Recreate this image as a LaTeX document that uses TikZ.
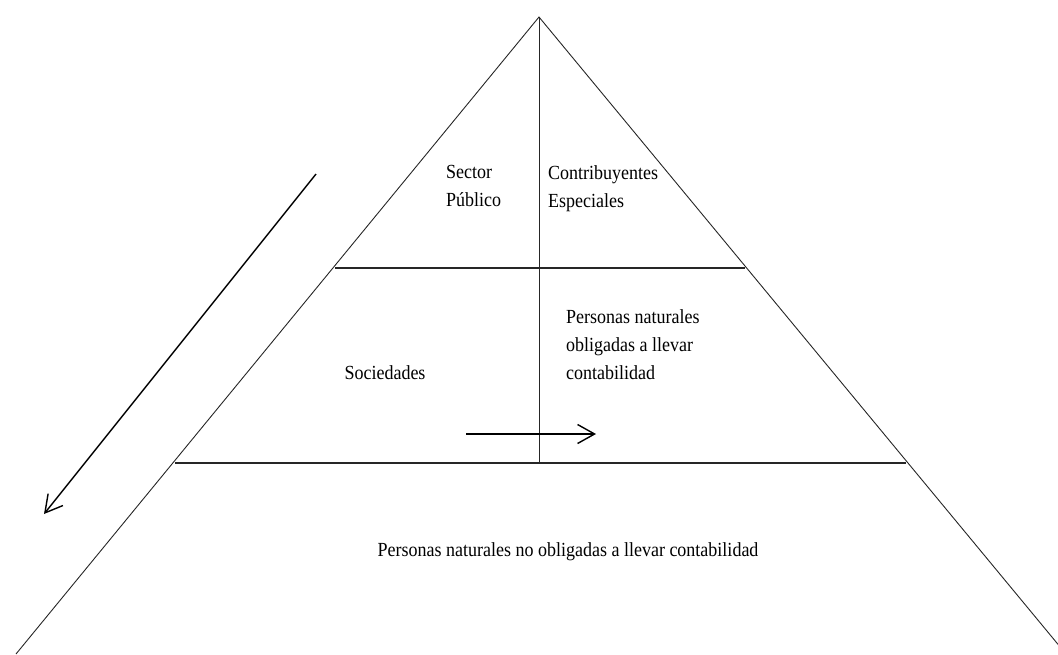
\documentclass[tikz,border=0pt]{standalone}
\usepackage{fontspec}
\setmainfont[FakeStretch=0.9]{Liberation Serif}
\usetikzlibrary{arrows.meta}
\begin{document}
\begin{tikzpicture}[x=1pt,y=-1pt,
  side/.style={draw=black!85, line width=0.9pt},
  level/.style={draw=black!85, line width=1.8pt},
  arrow/.style={line width=1.4pt, -{Straight Barb[length=17pt,width=19pt,line width=1.4pt]}},
  label/.style={font=\fontsize{20}{28}\selectfont, align=left, inner sep=0pt}]
\useasboundingbox (0,0) rectangle (1058,654);
\clip (0,0) rectangle (1058,654);
% pyramid
\coordinate (apex) at (539,17);
\coordinate (baseL) at (16,654);
\coordinate (baseR) at (1066,654);
\draw[side] (baseL) -- (apex) -- (baseR);
\draw[level] (335,268) -- (745,268);
\draw[level] (175,463) -- (906,463);
\draw[side] (apex) -- (539,463);
% labels
\node[label, anchor=west] (publico) at (446,186) {Sector\\Público};
\node[label, anchor=west] (especiales) at (548,189) {Contribuyentes\\Especiales};
\node[label] (sociedades) at (385,373) {Sociedades};
\node[label, anchor=west] (obligadas) at (566,345) {Personas naturales\\obligadas a llevar\\contabilidad};
\node[label] (noobligadas) at (568,552) {Personas naturales no obligadas a llevar contabilidad};
% arrows
\coordinate (downS) at (316,174);
\coordinate (downE) at (44,514);
\draw[arrow] (downS) -- (downE);
\coordinate (rightS) at (466,434);
\coordinate (rightE) at (596,434);
\draw[arrow] (rightS) -- (rightE);
\end{tikzpicture}
\end{document}
